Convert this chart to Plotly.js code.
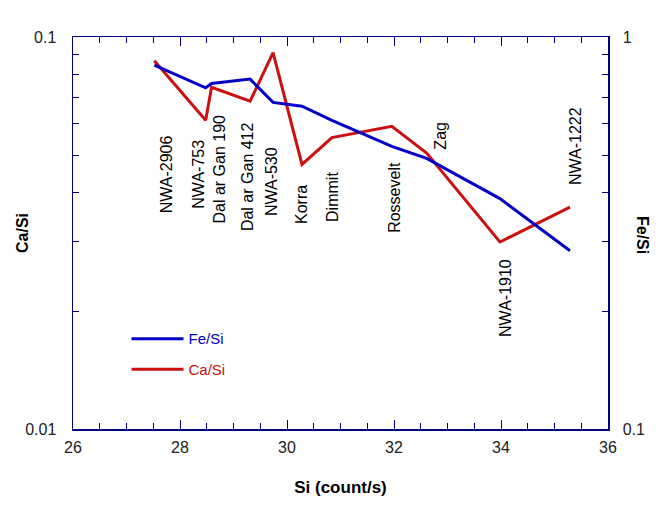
<!DOCTYPE html>
<html>
<head>
<meta charset="utf-8">
<script src="https://cdn.plot.ly/plotly-3.0.1.min.js"></script>
<style>html,body{margin:0;padding:0;background:#fff;}#chart{width:672px;height:507px;}</style>
</head>
<body>
<div id="chart"></div>
<script>
// ---- data ----
var samples = ['NWA-2906', 'NWA-753', 'Dal ar Gan 190', 'Dal ar Gan 412', 'NWA-530', 'Korra', 'Dimmit', 'Rossevelt', 'Zag', 'NWA-1910', 'NWA-1222'];
var si   = [27.52, 28.48, 28.59, 29.31, 29.74, 30.28, 30.84, 31.96, 32.61, 33.98, 35.29];
var feSi = [0.848, 0.742, 0.761, 0.781, 0.681, 0.666, 0.613, 0.526, 0.490, 0.387, 0.285];
var caSi = [0.0870, 0.0613, 0.0744, 0.0686, 0.0912, 0.0473, 0.0554, 0.0592, 0.0506, 0.0300, 0.0368];
var xTicks = [26, 28, 30, 32, 34, 36];

// ---- label placement (pixels) ----
var labelShiftX = [12, -8, 7, -2, -2, 0, 0, 2, 13, 5, 5];
var labelCenterY = [174, 174, 169, 177, 182, 204, 197, 197, 136, 298, 146];

var BLUE = '#0000C8', RED = '#CC1010', AX = '#000080';
var FONT = 'Liberation Sans, Arial, sans-serif';
var M = {l: 73, r: 64, t: 37, b: 78};
var plotH = 507 - M.t - M.b;

var traces = [
  {x: si, y: caSi, yaxis: 'y', type: 'scatter', mode: 'lines', name: '<span style="color:' + RED + '">Ca/Si</span>',
   line: {color: RED, width: 3}, legendgroup: 'ca', legendrank: 2, hoverinfo: 'skip'},
  {x: si, y: feSi, yaxis: 'y2', type: 'scatter', mode: 'lines', name: '<span style="color:' + BLUE + '">Fe/Si</span>',
   line: {color: BLUE, width: 3}, legendgroup: 'fe', legendrank: 1, hoverinfo: 'skip'}
];

var minorLeft = [0.02, 0.03, 0.04, 0.05, 0.06, 0.07, 0.08, 0.09];
var minorRight = [0.2, 0.3, 0.4, 0.5, 0.6, 0.7, 0.8, 0.9];

var annotations = samples.map(function (s, i) {
  return {
    x: si[i], xref: 'x', xshift: labelShiftX[i],
    y: (507 - M.b - labelCenterY[i]) / plotH, yref: 'paper',
    text: s, textangle: -90, showarrow: false,
    xanchor: 'center', yanchor: 'middle',
    font: {family: FONT, size: 16, color: '#000'}
  };
});
annotations.push({x: 0, xref: 'paper', xshift: -51, y: 0.5, yref: 'paper', text: '<b>Ca/Si</b>', textangle: -90,
  showarrow: false, xanchor: 'center', yanchor: 'middle', font: {family: FONT, size: 16, color: '#000'}});
annotations.push({x: 1, xref: 'paper', xshift: 34, y: 0.495, yref: 'paper', text: '<b>Fe/Si</b>', textangle: 90,
  showarrow: false, xanchor: 'center', yanchor: 'middle', font: {family: FONT, size: 16, color: '#000'}});

var layout = {
  width: 672, height: 507,
  margin: M,
  paper_bgcolor: '#fff', plot_bgcolor: '#fff',
  font: {family: FONT, size: 16, color: '#222'},
  showlegend: true,
  legend: {x: 0.10, y: 0.272, xanchor: 'left', yanchor: 'top', bgcolor: 'rgba(0,0,0,0)',
           traceorder: 'grouped', tracegroupgap: 8, itemwidth: 52,
           font: {family: FONT, size: 15}},
  xaxis: {
    range: [26, 36], tickvals: xTicks, ticktext: xTicks.map(String),
    ticks: 'inside', ticklen: 9, tickwidth: 1, tickcolor: AX,
    showline: true, linecolor: AX, linewidth: 1.5, mirror: 'ticks',
    showgrid: false, zeroline: false, ticklabelstandoff: 3,
    minor: {dtick: 0.5, ticks: 'inside', ticklen: 6, tickcolor: AX, tickwidth: 1, showgrid: false},
    title: {text: '<b>Si (count/s)</b>', font: {family: FONT, size: 17, color: '#000'}, standoff: 26},
    tickfont: {family: FONT, size: 16, color: '#222'}
  },
  yaxis: {
    type: 'log', range: [-2, -1], tickvals: [0.01, 0.1], ticktext: ['0.01', '0.1'],
    ticks: 'inside', ticklen: 6, tickcolor: AX, tickwidth: 1,
    showline: true, linecolor: AX, linewidth: 1.5, showgrid: false, zeroline: false,
    ticklabelstandoff: 12,
    minor: {tickvals: minorLeft, ticks: 'inside', ticklen: 6, tickcolor: AX, tickwidth: 1, showgrid: false},
    tickfont: {family: FONT, size: 16, color: '#222'}
  },
  yaxis2: {
    type: 'log', range: [-1, 0], overlaying: 'y', side: 'right',
    tickvals: [0.1, 1], ticktext: ['0.1', '1'],
    ticks: 'inside', ticklen: 6, tickcolor: AX, tickwidth: 1,
    showline: true, linecolor: AX, linewidth: 1.5, showgrid: false, zeroline: false,
    ticklabelstandoff: 10,
    minor: {tickvals: minorRight, ticks: 'inside', ticklen: 6, tickcolor: AX, tickwidth: 1, showgrid: false},
    tickfont: {family: FONT, size: 16, color: '#222'}
  },
  annotations: annotations
};

Plotly.newPlot('chart', traces, layout, {staticPlot: true, displayModeBar: false});
</script>
</body>
</html>
